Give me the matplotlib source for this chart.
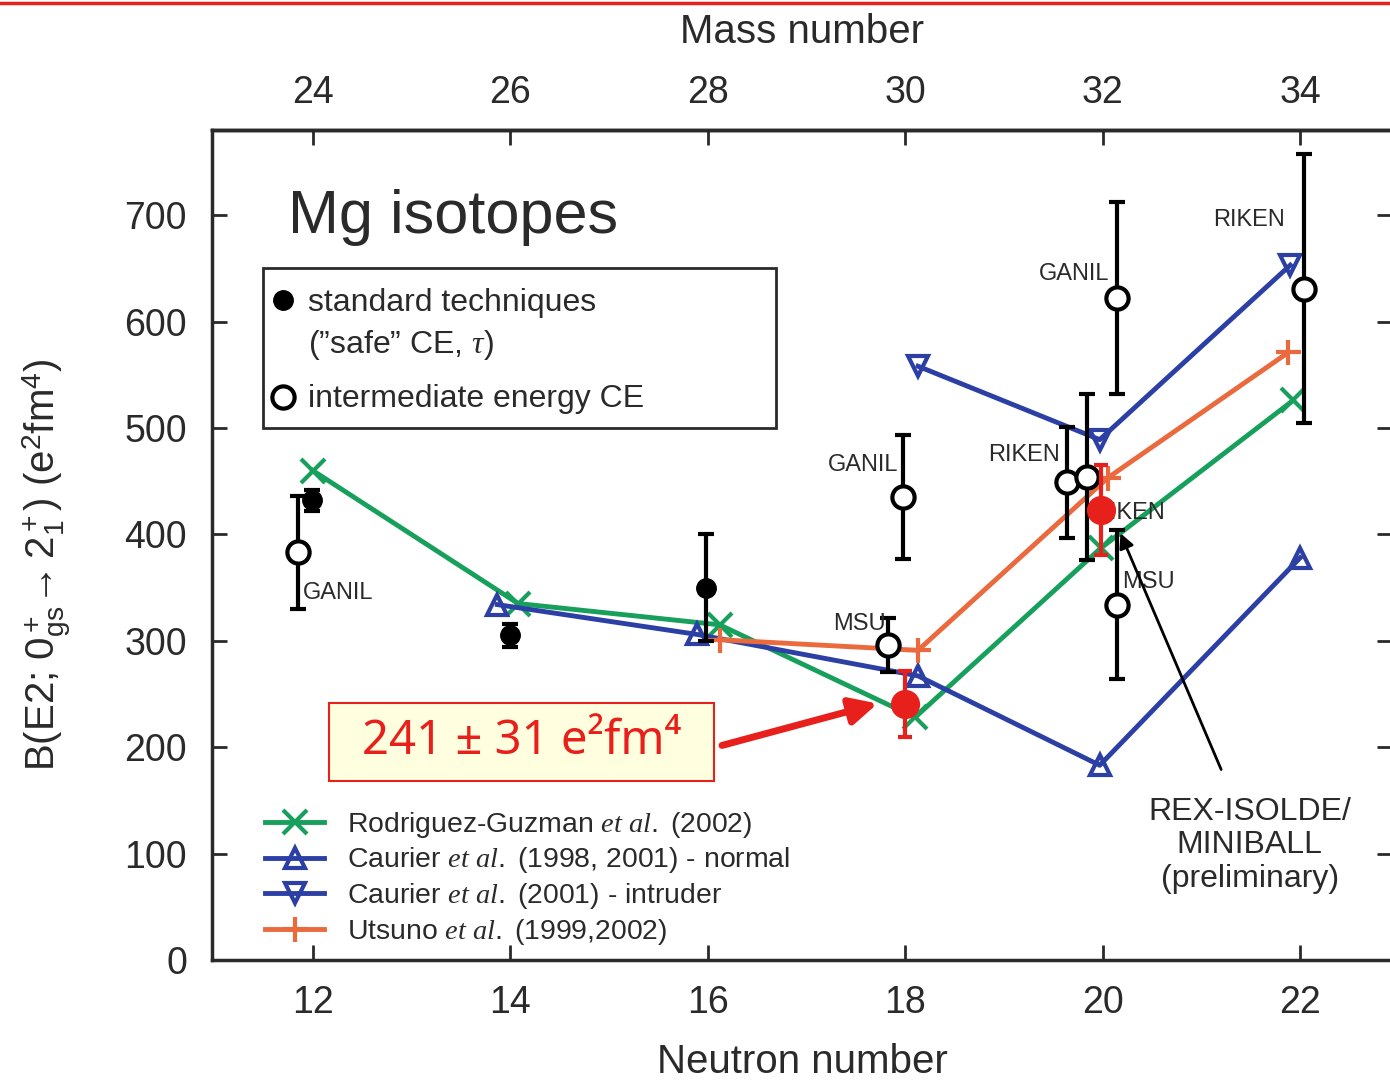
import matplotlib
matplotlib.use('Agg')
import matplotlib.pyplot as plt
from matplotlib.lines import Line2D
from matplotlib.patches import Rectangle

plt.rcParams['font.family'] = ['Liberation Sans', 'DejaVu Sans']
plt.rcParams['mathtext.fontset'] = 'custom'
plt.rcParams['mathtext.rm'] = 'Liberation Sans'
plt.rcParams['mathtext.it'] = 'Liberation Serif:italic'

# theory curves (neutron number, B(E2) in e^2 fm^4)
rg_n = [12.0, 14.08, 16.12, 18.1, 19.98, 21.93]
rg_b = [460, 335, 315, 228, 387, 526]
cn_n = [13.87, 15.89, 18.13, 19.97, 22.0]
cn_b = [334, 306, 267, 183, 378]
ci_n = [18.13, 19.97, 21.9]
ci_b = [558, 489, 653]
ut_n = [16.12, 18.13, 20.05, 21.88]
ut_b = [301, 291, 453, 571]

# standard techniques (filled)
std_n = [11.99, 14.0, 15.98]
std_b = [432, 305, 350]
std_e = [10, 11, 50]

# intermediate energy coulex (open)
ie_n = [11.85, 17.98, 17.83, 19.64, 19.84, 20.15, 20.15, 22.04]
ie_b = [383, 435, 296, 449, 454, 622, 334, 631]
ie_e = [53, 58, 25, 52, 78, 90, 70, 126]

# REX-ISOLDE / MINIBALL
rex_n = [18.0, 19.98]
rex_b = [241, 423]
rex_e = [31, 42]

# lab labels: text, n, b, alignment
lab_text = ['GANIL', 'GANIL', 'MSU', 'RIKEN', 'RIKEN', 'MSU', 'GANIL', 'RIKEN']
lab_n = [11.9, 17.93, 17.8, 19.57, 20.63, 20.2, 20.07, 21.85]
lab_b = [345, 465, 316, 475, 420, 355, 645, 695]
lab_ha = ['left', 'right', 'right', 'right', 'right', 'left', 'right', 'right']

green = '#17a05c'
blue = '#2b3fa5'
orange = '#ea6a3e'
red = '#e8201c'
dark = '#2a2a2a'

fig = plt.figure(figsize=(13.9, 10.8), dpi=100)
ax = fig.add_axes([212/1390, 120/1080, 1180/1390, 830/1080])

# theory lines
ax.plot(rg_n, rg_b, '-x', color=green, lw=3.5, ms=17, mew=3, label=r'Rodriguez-Guzman $et\ al.$ (2002)', zorder=3)
ax.plot(cn_n, cn_b, '-^', color=blue, lw=3.5, ms=15, mew=3, mfc='none', label=r'Caurier $et\ al.$ (1998, 2001) - normal', zorder=3)
ax.plot(ci_n, ci_b, '-v', color=blue, lw=3.5, ms=15, mew=3, mfc='none', label=r'Caurier $et\ al.$ (2001) - intruder', zorder=3)
ax.plot(ut_n, ut_b, '-+', color=orange, lw=3.5, ms=18, mew=3, label=r'Utsuno $et\ al.$ (1999,2002)', zorder=3)

# experimental points
ax.errorbar(std_n, std_b, yerr=std_e, fmt='o', color='black', ms=14, elinewidth=3, capsize=6, capthick=3, zorder=4)
ax.errorbar(ie_n, ie_b, yerr=ie_e, fmt='o', color='black', mfc='white', ms=16, mew=3, elinewidth=3, capsize=6, capthick=3, zorder=4)
for t, n, b, ha in zip(lab_text, lab_n, lab_b, lab_ha):
    ax.text(n, b, t, fontsize=17, color=dark, ha=ha, va='center', zorder=5)
ax.errorbar(rex_n, rex_b, yerr=rex_e, fmt='o', color=red, ms=20, elinewidth=3, capsize=5, capthick=3, zorder=6)

ax.set_xlim(10.98, 22.93)
ax.set_ylim(0, 780)
ax.set_xticks([12, 14, 16, 18, 20, 22])
ax.set_yticks(range(0, 800, 100))
ax.tick_params(direction='in', length=11, width=2, labelsize=27, pad=18, colors=dark,
               right=True, top=False)
for s in ax.spines.values():
    s.set_linewidth(2.5)
    s.set_color(dark)
ax.set_xlabel('Neutron number', fontsize=29, color=dark, labelpad=16)
ax.set_ylabel(r'B(E2; $0^+_{\mathrm{gs}}\!\rightarrow 2^+_{1}$) (e$^2$fm$^4$)', fontsize=29, color=dark)
ax.yaxis.set_label_coords(-0.118, 0.476)

top = ax.secondary_xaxis('top', functions=(lambda n: n + 12, lambda a: a - 12))
top.set_xticks([24, 26, 28, 30, 32, 34])
top.tick_params(direction='in', length=11, width=2, labelsize=27, pad=14, colors=dark)
top.spines['top'].set_linewidth(2.5)
top.set_xlabel('Mass number', fontsize=29, color=dark, labelpad=23)

ax.text(0.064, 0.895, 'Mg isotopes', transform=ax.transAxes, fontsize=44, color=dark, va='center')

# data-type box
ax.add_patch(Rectangle((0.0432, 0.641), 0.4347, 0.1928, transform=ax.transAxes,
                       fill=False, lw=2, edgecolor=dark, zorder=5))
ax.plot([0.0602], [0.7952], 'o', color='black', ms=14, transform=ax.transAxes, zorder=6)
ax.plot([0.0602], [0.678], 'o', color='black', mfc='white', ms=16, mew=3, transform=ax.transAxes, zorder=6)
ax.text(0.0814, 0.7916, 'standard techniques', transform=ax.transAxes, fontsize=23, color=dark, va='center')
ax.text(0.0814, 0.741, '(\u201dsafe\u201d CE, $\\tau$)', transform=ax.transAxes, fontsize=23, color=dark, va='center')
ax.text(0.0814, 0.676, 'intermediate energy CE', transform=ax.transAxes, fontsize=23, color=dark, va='center')

leg = ax.legend(loc='lower left', bbox_to_anchor=(0.028, -0.008), frameon=False, fontsize=20.4,
                handlelength=2.1, handletextpad=0.8, labelspacing=0.2, borderaxespad=0.3)
for t in leg.get_texts():
    t.set_color(dark)

# highlighted value
ax.add_patch(Rectangle((0.0992, 0.2157), 0.3262, 0.0939, transform=ax.transAxes,
                       fc='#ffffe0', ec=red, lw=1.5, zorder=7))
ax.text(0.2623, 0.2627, '241 \u00b1 31 e\u00b2fm\u2074', transform=ax.transAxes, fontsize=34, color=red,
        ha='center', va='center', family=['Noto Sans', 'DejaVu Sans'], zorder=8)
ax.annotate('', xy=(17.72, 241), xytext=(0.4322, 0.2585), textcoords='axes fraction',
            arrowprops=dict(arrowstyle='-|>', color=red, lw=5, mutation_scale=40, shrinkA=0, shrinkB=0),
            zorder=7)

# REX-ISOLDE pointer
ax.annotate('', xy=(20.18, 401), xytext=(21.2, 179),
            arrowprops=dict(arrowstyle='-|>', color='black', lw=2, mutation_scale=22, shrinkA=0, shrinkB=0),
            zorder=7)
ax.text(21.49, 108, 'REX-ISOLDE/\nMINIBALL\n(preliminary)', fontsize=23, color=dark,
        ha='center', va='center', linespacing=1.15)

# slide decoration line
fig.add_artist(Line2D([0, 1], [1 - 3/1080, 1 - 3/1080], color=red, lw=2.5, transform=fig.transFigure))

fig.savefig('out.png', dpi=100)
